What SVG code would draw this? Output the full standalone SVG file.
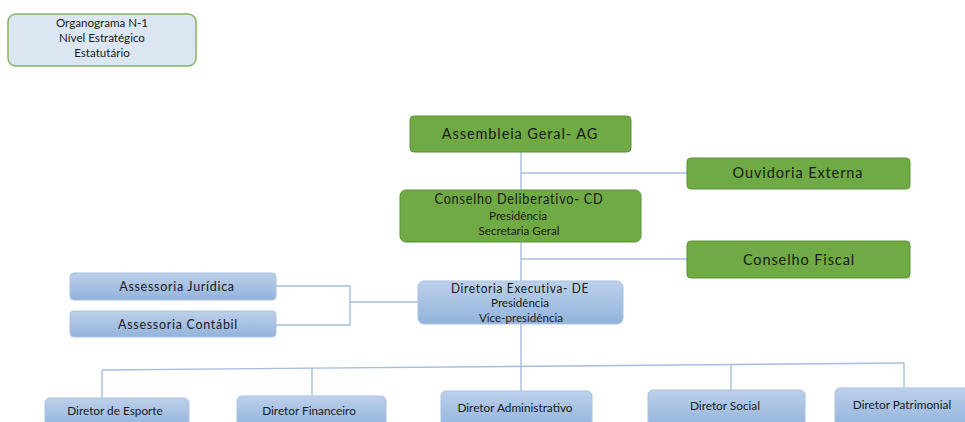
<svg xmlns="http://www.w3.org/2000/svg" width="965" height="422" viewBox="0 0 965 422">
<defs>
<linearGradient id="bg" x1="0" y1="0" x2="0" y2="1">
<stop offset="0" stop-color="#bcd0ea"/>
<stop offset="1" stop-color="#93b3dc"/>
</linearGradient>
<style>
.g{fill:#6faa44;stroke:#5b9136;stroke-width:1}
.b{fill:url(#bg);stroke:#a9c2e2;stroke-width:1}
.t{font-family:Lato,"Liberation Sans",sans-serif;fill:#1a1a1a;text-anchor:middle}
.big{font-size:14.5px;letter-spacing:0.9px}
.mid{font-size:12.5px;letter-spacing:0.7px}
.sm{font-size:11.6px}
.xs{font-size:11.8px}
.c{fill:none;stroke:#a4bde0;stroke-width:1.4}
</style>
</defs>
<rect width="965" height="422" fill="#ffffff"/>
<g id="connectors">
<path class="c" d="M521 152 V190"/>
<path class="c" d="M521 173 H687"/>
<path class="c" d="M521 242 V281"/>
<path class="c" d="M521 259 H687"/>
<path class="c" d="M276 286 H350 V325 H276"/>
<path class="c" d="M350 302 H418"/>
<path class="c" d="M521 324 V391"/>
<path class="c" d="M102 370 L904 363"/>
<path class="c" d="M102 370 V398"/>
<path class="c" d="M312 368.2 V396"/>
<path class="c" d="M731 364.5 V391"/>
<path class="c" d="M904 363 V389"/>
</g>
<g id="title">
<rect x="8" y="14" width="188" height="52" rx="8" fill="#dce6f2" stroke="#82b45f" stroke-width="1.5"/>
<text class="t sm" x="102" y="27">Organograma N-1</text>
<text class="t sm" x="102" y="42">Nível Estratégico</text>
<text class="t sm" x="102" y="57">Estatutário</text>
</g>
<g id="ag">
<rect class="g" x="410" y="116" width="221" height="36" rx="4"/>
<text class="t big" x="520" y="139">Assembleia Geral- AG</text>
</g>
<g id="ouvidoria">
<rect class="g" x="687" y="158" width="223" height="31" rx="4"/>
<text class="t big" x="798" y="178">Ouvidoria Externa</text>
</g>
<g id="cd">
<rect class="g" x="400" y="190" width="241" height="52" rx="6"/>
<text class="t big" x="519" y="204" textLength="169" lengthAdjust="spacingAndGlyphs">Conselho Deliberativo- CD</text>
<text class="t sm" x="518" y="220">Presidência</text>
<text class="t sm" x="519" y="235">Secretaria Geral</text>
</g>
<g id="fiscal">
<rect class="g" x="687" y="241" width="223" height="37" rx="4"/>
<text class="t big" x="799" y="265">Conselho Fiscal</text>
</g>
<g id="juridica">
<rect class="b" x="70" y="273" width="206" height="27" rx="4"/>
<text class="t mid" x="177" y="291">Assessoria Jurídica</text>
</g>
<g id="contabil">
<rect class="b" x="70" y="311" width="206" height="26" rx="4"/>
<text class="t mid" x="178" y="329">Assessoria Contábil</text>
</g>
<g id="de">
<rect class="b" x="418" y="281" width="205" height="43" rx="6"/>
<text class="t mid" x="520" y="293" textLength="138" lengthAdjust="spacingAndGlyphs">Diretoria Executiva- DE</text>
<text class="t sm" x="520" y="307">Presidência</text>
<text class="t sm" x="521" y="322">Vice-presidência</text>
</g>
<g id="esporte">
<rect class="b" x="45" y="398" width="144" height="30" rx="5"/>
<text class="t xs" x="115" y="415">Diretor de Esporte</text>
</g>
<g id="financeiro">
<rect class="b" x="237" y="396" width="149" height="32" rx="5"/>
<text class="t xs" x="309" y="415">Diretor Financeiro</text>
</g>
<g id="administrativo">
<rect class="b" x="441" y="391" width="151" height="37" rx="5"/>
<text class="t xs" x="515" y="412">Diretor Administrativo</text>
</g>
<g id="social">
<rect class="b" x="648" y="390" width="157" height="38" rx="5"/>
<text class="t xs" x="725" y="410">Diretor Social</text>
</g>
<g id="patrimonial">
<rect class="b" x="835" y="388" width="140" height="40" rx="5"/>
<text class="t xs" x="902" y="409">Diretor Patrimonial</text>
</g>
</svg>
